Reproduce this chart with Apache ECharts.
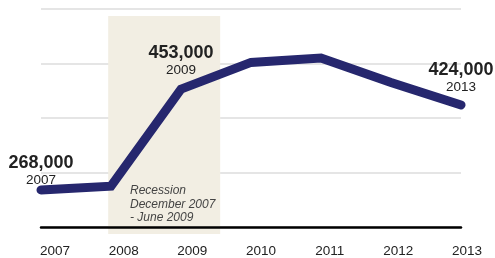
<!DOCTYPE html>
<html>
<head>
<meta charset="utf-8">
<script src="https://cdn.jsdelivr.net/npm/echarts@6/dist/echarts.min.js"></script>
<style>
  html, body { margin: 0; padding: 0; background: #fff; }
  #chart { width: 495px; height: 258px; }
</style>
</head>
<body>
<div id="chart"></div>
<script>
const years = ['2007', '2008', '2009', '2010', '2011', '2012', '2013']
const values = [268000, 275000, 453000, 502000, 510000, 465000, 424000]
const yTicks = [200000, 300000, 400000, 500000, 600000]
// recession shading, in fractional years
const recession = [2007.96, 2009.56]
const recessionText = 'Recession\nDecember 2007\n- June 2009'
// which points get a callout, and how far above the line
const callouts = { 0: 1, 2: 10, 6: 9 }

const font = '"Liberation Sans", Arial, Helvetica, sans-serif'
const navy = '#26276e'

const lineData = values.map((v, i) => {
  if (callouts[i] === undefined) return v
  return {
    value: v,
    label: {
      show: true,
      position: 'top',
      distance: callouts[i],
      formatter: '{v|' + v.toLocaleString('en-US') + '}\n{y|' + years[i] + '}',
      rich: {
        v: { fontFamily: font, fontSize: 18, fontWeight: 'bold', color: '#222', lineHeight: 19, align: 'center' },
        y: { fontFamily: font, fontSize: 13.5, color: '#222', lineHeight: 16, align: 'center' }
      }
    }
  }
})

const chart = echarts.init(document.getElementById('chart'))
chart.setOption({
  animation: false,
  grid: [
    { left: 41, right: 34, top: 9, bottom: 31 },
    // label row sits slightly offset from the data ticks, as in the print graphic
    { left: 55, right: 28, top: 9, bottom: 31 },
    // recession band, runs a little below the baseline
    { left: 41, right: 34, top: 16, bottom: 24 }
  ],
  xAxis: [
    {
      type: 'category',
      data: years,
      boundaryGap: false,
      axisLine: { lineStyle: { color: '#000', width: 2.5 } },
      axisTick: { show: false },
      axisLabel: { show: false },
      splitLine: { show: false },
      z: 5
    },
    {
      gridIndex: 1,
      type: 'category',
      data: years,
      boundaryGap: false,
      axisLine: { show: false },
      axisTick: { show: false },
      splitLine: { show: false },
      axisLabel: { fontFamily: font, fontSize: 13.5, color: '#222', margin: 17 }
    },
    { gridIndex: 2, type: 'value', min: 2007, max: 2013, show: false }
  ],
  yAxis: [
    {
      type: 'value',
      min: yTicks[0],
      max: yTicks[yTicks.length - 1],
      interval: 100000,
      axisLine: { show: false },
      axisTick: { show: false },
      axisLabel: { show: false },
      splitLine: { lineStyle: { color: '#dcdcdc', width: 1.5 } }
    },
    { gridIndex: 1, type: 'value', show: false, min: 0, max: 1 },
    { gridIndex: 2, type: 'value', show: false, min: 0, max: 1 }
  ],
  series: [
    {
      type: 'line',
      xAxisIndex: 2,
      yAxisIndex: 2,
      data: [],
      silent: true,
      z: -1,
      markArea: {
        silent: true,
        itemStyle: { color: '#f2eee3' },
        label: { show: false },
        data: [[
          { coord: [recession[0], 1] },
          { coord: [recession[1], 0] }
        ]]
      }
    },
    {
      type: 'line',
      data: lineData,
      symbol: 'circle',
      symbolSize: 1,
      showSymbol: true,
      itemStyle: { color: navy },
      z: 3,
      lineStyle: { color: navy, width: 9, cap: 'round', join: 'miter' },
      label: { show: false }
    },
    {
      type: 'line',
      xAxisIndex: 1,
      yAxisIndex: 1,
      data: [],
      silent: true
    }
  ],
  graphic: [
    {
      type: 'text',
      left: 130,
      top: 184,
      z: 10,
      style: {
        text: recessionText,
        fill: '#444',
        font: 'italic 12px ' + font,
        lineHeight: 13.5
      }
    }
  ]
})
</script>
</body>
</html>
